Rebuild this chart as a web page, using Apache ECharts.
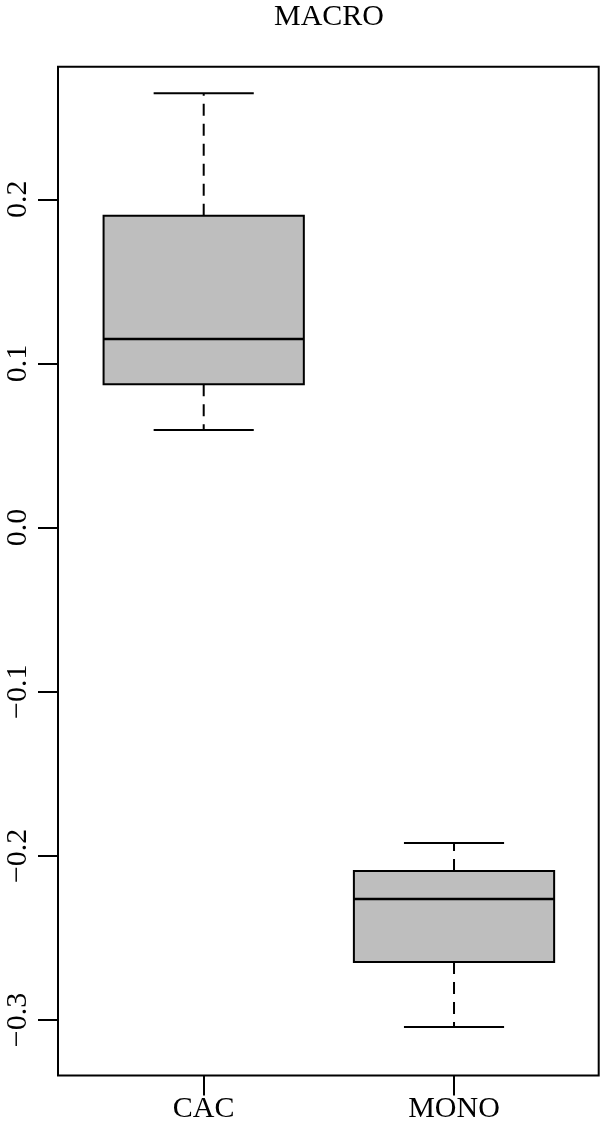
<!DOCTYPE html>
<html>
<head>
<meta charset="utf-8">
<script src="https://cdn.jsdelivr.net/npm/echarts@6/dist/echarts.min.js"></script>
<style>html,body{margin:0;padding:0;background:#fff}#c{width:600px;height:1132px}</style>
</head>
<body>
<div id="c"></div>
<script>
const categories = ['CAC', 'MONO'];
const whiskerLow = [0.0595, -0.3043];
const q1 = [0.0873, -0.2647];
const median = [0.1149, -0.2263];
const q3 = [0.1900, -0.2092];
const whiskerHigh = [0.2646, -0.1922];
const yTicks = [-0.3, -0.2, -0.1, 0, 0.1, 0.2];
const xTicks = [1, 2];

const boxData = categories.map((c, i) => [i + 1, whiskerLow[i], q1[i], median[i], q3[i], whiskerHigh[i]]);

const FONT = '"Liberation Serif", "DejaVu Serif", serif';
const chart = echarts.init(document.getElementById('c'), null, {renderer: 'canvas'});

chart.setOption({
  animation: false,
  backgroundColor: '#fff',
  title: {
    text: 'MACRO',
    left: 274,
    top: 2,
    padding: 0,
    textStyle: {fontFamily: FONT, fontSize: 30, fontWeight: 'normal', color: '#000'}
  },
  grid: {
    left: 58, top: 66.7, right: 1.3, bottom: 56.5,
    show: true, borderColor: '#000', borderWidth: 2,
    outerBoundsMode: 'none', containLabel: false
  },
  xAxis: {
    type: 'value',
    position: 'bottom',
    min: 0.4179, max: 2.578,
    splitLine: {show: false},
    axisLine: {show: false, onZero: false},
    axisTick: {show: true, length: 20, inside: false, customValues: xTicks, lineStyle: {color: '#000', width: 2}},
    axisLabel: {
      customValues: xTicks, margin: 19,
      fontFamily: FONT, fontSize: 30, color: '#000',
      formatter: v => categories[Math.round(v) - 1] || ''
    }
  },
  yAxis: {
    type: 'value',
    position: 'left',
    min: -0.3338, max: 0.2808,
    splitLine: {show: false},
    axisLine: {show: false, onZero: false},
    axisTick: {show: true, length: 20, inside: false, customValues: yTicks, lineStyle: {color: '#000', width: 2}},
    axisLabel: {
      customValues: yTicks, margin: 25, rotate: 90,
      fontFamily: FONT, fontSize: 30, color: '#000',
      formatter: v => (v < -1e-9 ? '\u2212' : '') + Math.abs(v).toFixed(1)
    }
  },
  series: [{
    type: 'custom',
    data: boxData,
    encode: {x: 0, y: [1, 2, 3, 4, 5]},
    renderItem: function (params, api) {
      const x = api.value(0);
      const pMin = api.coord([x, api.value(1)]);
      const pQ1 = api.coord([x, api.value(2)]);
      const pMed = api.coord([x, api.value(3)]);
      const pQ3 = api.coord([x, api.value(4)]);
      const pMax = api.coord([x, api.value(5)]);
      const half = api.size([0.8, 0])[0] / 2;
      const sHalf = half / 2;
      const cx = pMed[0];
      const lineStyle = {stroke: '#000', lineWidth: 2};
      const dashStyle = {stroke: '#000', lineWidth: 2, lineDash: [12, 8]};
      return {
        type: 'group',
        children: [
          {type: 'line', shape: {x1: cx, y1: pQ3[1], x2: cx, y2: pMax[1]}, style: dashStyle},
          {type: 'line', shape: {x1: cx, y1: pQ1[1], x2: cx, y2: pMin[1]}, style: dashStyle},
          {type: 'line', shape: {x1: cx - sHalf, y1: pMax[1], x2: cx + sHalf, y2: pMax[1]}, style: lineStyle},
          {type: 'line', shape: {x1: cx - sHalf, y1: pMin[1], x2: cx + sHalf, y2: pMin[1]}, style: lineStyle},
          {type: 'rect', shape: {x: cx - half, y: pQ3[1], width: 2 * half, height: pQ1[1] - pQ3[1]},
            style: {fill: '#bebebe', stroke: '#000', lineWidth: 2}},
          {type: 'line', shape: {x1: cx - half, y1: pMed[1], x2: cx + half, y2: pMed[1]}, style: {stroke: '#000', lineWidth: 2.5}}
        ]
      };
    }
  }]
});
</script>
</body>
</html>
